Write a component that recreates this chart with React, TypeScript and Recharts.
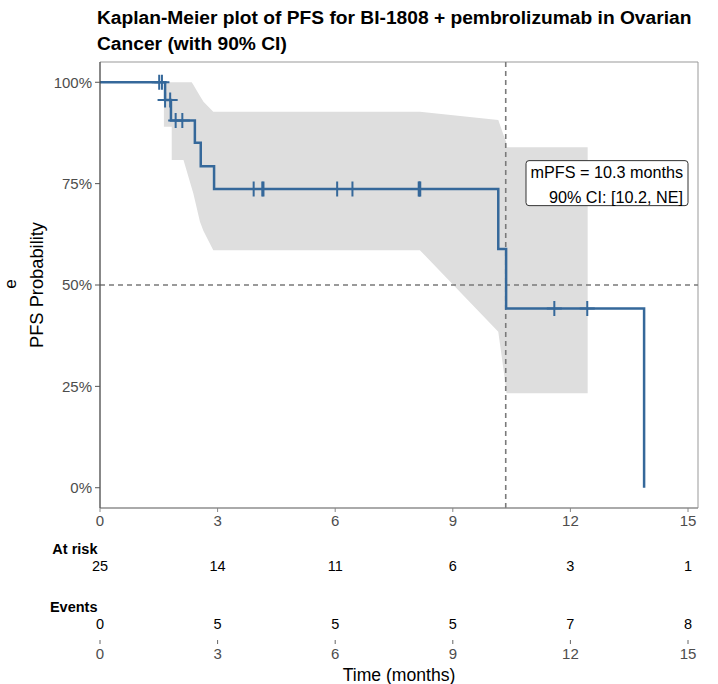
import React from 'react'
import {
  ComposedChart, Line, Area, Scatter, XAxis, YAxis, ReferenceLine, ReferenceDot, ReferenceArea,
} from 'recharts'

const FONT = '"Liberation Sans", Arial, Helvetica, sans-serif'
const KM_BLUE = '#35689a'

const TITLE_LINES = ['Kaplan-Meier plot of PFS for BI-1808 + pembrolizumab in Ovarian', 'Cancer (with 90% CI)']

// Kaplan-Meier steps: months / % progression free
const STEP_TIMES = [0, 1.66, 1.81, 2.42, 2.57, 2.91, 10.16, 10.36, 13.88]
const STEP_SURV = [100, 95.6, 90.6, 85.1, 79.3, 73.7, 58.9, 44.2, 0]

// censored patients (+ marks)
const CENSOR_TIMES = [1.51, 1.58, 1.66, 1.79, 1.93, 2.1, 3.92, 4.14, 4.17, 6.05, 6.44, 8.13, 8.15, 8.17, 11.59, 12.43]
const CENSOR_SURV = [100, 100, 95.6, 95.6, 90.6, 90.6, 73.7, 73.7, 73.7, 73.7, 73.7, 73.7, 73.7, 73.7, 44.2, 44.2]

// 90% CI ribbon
const CI_TIMES = [1.63, 1.63, 1.83, 1.83, 2.13, 2.34, 2.38, 2.55, 2.64, 2.89, 8.16, 10.16, 10.33, 10.36, 10.37, 12.44]
const CI_LOW = [100, 89, 89, 80.8, 80.8, 73.9, 72.6, 65.6, 63.3, 58.6, 58.6, 38.5, 26.6, 24.0, 23.3, 23.3]
const CI_HIGH = [100, 100, 100, 100, 100, 100, 99.4, 96.6, 95.2, 92.7, 92.7, 90.7, 86.0, 85.3, 84.0, 84.0]

const MEDIAN_PFS = 10.35
const ANNOT_LINES = ['mPFS = 10.3 months', '90% CI: [10.2, NE]']

const X_TICKS = [0, 3, 6, 9, 12, 15]
const Y_TICKS = [0, 25, 50, 75, 100]

// risk table
const ROW_TITLES = ['At risk', 'Events']
const AT_RISK = [25, 14, 11, 6, 3, 1]
const EVENTS = [0, 5, 5, 5, 7, 8]

const X_MAX = 15.255

const ciRows = CI_TIMES.map((t, i) => ({ t, ci: [CI_LOW[i], CI_HIGH[i]] }))
const kmRows = STEP_TIMES.map((t, i) => ({ t, s: STEP_SURV[i] }))
const censorRows = CENSOR_TIMES.map((t, i) => ({ t, s: CENSOR_SURV[i] }))
const tableRows = [
  ...X_TICKS.map((t, i) => ({ t, row: 1, n: AT_RISK[i] })),
  ...X_TICKS.map((t, i) => ({ t, row: 2, n: EVENTS[i] })),
]

const CensorMark = ({ cx, cy }: any) => (
  <path d={`M${cx - 7.5},${cy}h15M${cx},${cy - 7.5}v15`} stroke={KM_BLUE} strokeWidth={2} fill="none" />
)

const AnnotBox = ({ cx, cy }: any) => (
  <g>
    <rect x={cx - 162} y={cy - 23} width={162} height={45} rx={3} fill="#fff" stroke="#333" strokeWidth={1} />
    {ANNOT_LINES.map((l, i) => (
      <text key={i} x={cx - 5} y={cy - 5.5 + i * 24.4} textAnchor="end" fontSize={16.2} fontFamily={FONT} fill="#000">{l}</text>
    ))}
  </g>
)

const TableNumber = ({ cx, cy, payload }: any) => (
  <text x={cx} y={cy} dy="0.35em" textAnchor="middle" fontSize={14.5} fontFamily={FONT} fill="#000">{payload.n}</text>
)

const RowHeader = ({ y, index }: any) => (
  <text x={97.5} y={y - 11.5} textAnchor="end" fontWeight="bold" fontSize={14.5} fontFamily={FONT} fill="#000">{ROW_TITLES[index]}</text>
)

export default function App() {
  return (
    <div style={{ position: 'absolute', left: 0, top: 0, width: 718, height: 684, background: '#fff', fontFamily: FONT, overflow: 'hidden' }}>
      <div style={{ position: 'absolute', left: 97, top: 5, fontSize: 19.2, lineHeight: '26px', fontWeight: 'bold', color: '#000', whiteSpace: 'nowrap' }}>
        {TITLE_LINES.map((l, i) => <div key={i}>{l}</div>)}
      </div>
      {/* leftover strata label at the far left */}
      <svg width={22} height={24} style={{ position: 'absolute', left: 0, top: 272 }}>
        <text transform="translate(16,12) rotate(-90)" textAnchor="middle" fontSize={17} fontFamily={FONT} fill="#000">e</text>
      </svg>

      {/* KM plot */}
      <div style={{ position: 'absolute', left: 0, top: 0 }}>
        <ComposedChart width={718} height={545} data={ciRows} margin={{ top: 62, right: 20, bottom: 7, left: 0 }}>
          <XAxis dataKey="t" type="number" domain={[0, X_MAX]} allowDataOverflow ticks={X_TICKS}
            tick={{ fill: '#4d4d4d', fontSize: 15, fontFamily: FONT }} tickSize={4} tickMargin={3}
            axisLine={{ stroke: '#888' }} tickLine={{ stroke: '#888' }} height={30} />
          <YAxis type="number" domain={[-5, 105]} allowDataOverflow ticks={Y_TICKS} width={100}
            tickFormatter={(v) => `${v}%`} tick={{ fill: '#4d4d4d', fontSize: 15, fontFamily: FONT }}
            tickSize={5} tickMargin={3} axisLine={{ stroke: '#444' }} tickLine={{ stroke: '#555' }}
            label={{ value: 'PFS Probability', angle: -90, position: 'insideLeft', offset: 37,
              style: { textAnchor: 'middle', fontSize: 18.3, fill: '#000', fontFamily: FONT } }} />
          <ReferenceArea x1={0} x2={X_MAX} y1={-5} y2={105} fill="none" stroke="#999" strokeWidth={1} />
          <Area dataKey="ci" type="linear" fill="#dedede" fillOpacity={1} stroke="none" isAnimationActive={false} />
          <ReferenceLine y={50} stroke="#7a7a7a" strokeWidth={1.6} strokeDasharray="5 4" />
          <ReferenceLine x={MEDIAN_PFS} stroke="#7a7a7a" strokeWidth={1.6} strokeDasharray="5 4" />
          <Line data={kmRows} dataKey="s" type="stepAfter" stroke={KM_BLUE} strokeWidth={2.5} dot={false} isAnimationActive={false} />
          <Scatter data={censorRows} dataKey="s" shape={<CensorMark />} isAnimationActive={false} />
          <ReferenceDot x={15} y={75} r={0} shape={<AnnotBox />} />
        </ComposedChart>
      </div>

      {/* risk table */}
      <div style={{ position: 'absolute', left: 0, top: 530 }}>
        <ComposedChart width={718} height={154} margin={{ top: 0, right: 20, bottom: 0, left: 0 }}>
          <XAxis dataKey="t" type="number" domain={[0, X_MAX]} ticks={X_TICKS} height={44}
            axisLine={false} tickLine={{ stroke: '#666' }} tickSize={4} tickMargin={4}
            tick={{ fill: '#4d4d4d', fontSize: 15, fontFamily: FONT }}
            label={{ value: 'Time (months)', position: 'insideBottom', offset: 3,
              style: { fontSize: 17.6, fill: '#000', fontFamily: FONT } }} />
          <YAxis dataKey="row" type="number" domain={[0.374, 2.287]} reversed ticks={[1, 2]} width={100}
            axisLine={false} tickLine={false} tick={<RowHeader />} />
          <Scatter data={tableRows} dataKey="row" shape={<TableNumber />} isAnimationActive={false} />
        </ComposedChart>
      </div>
    </div>
  )
}
